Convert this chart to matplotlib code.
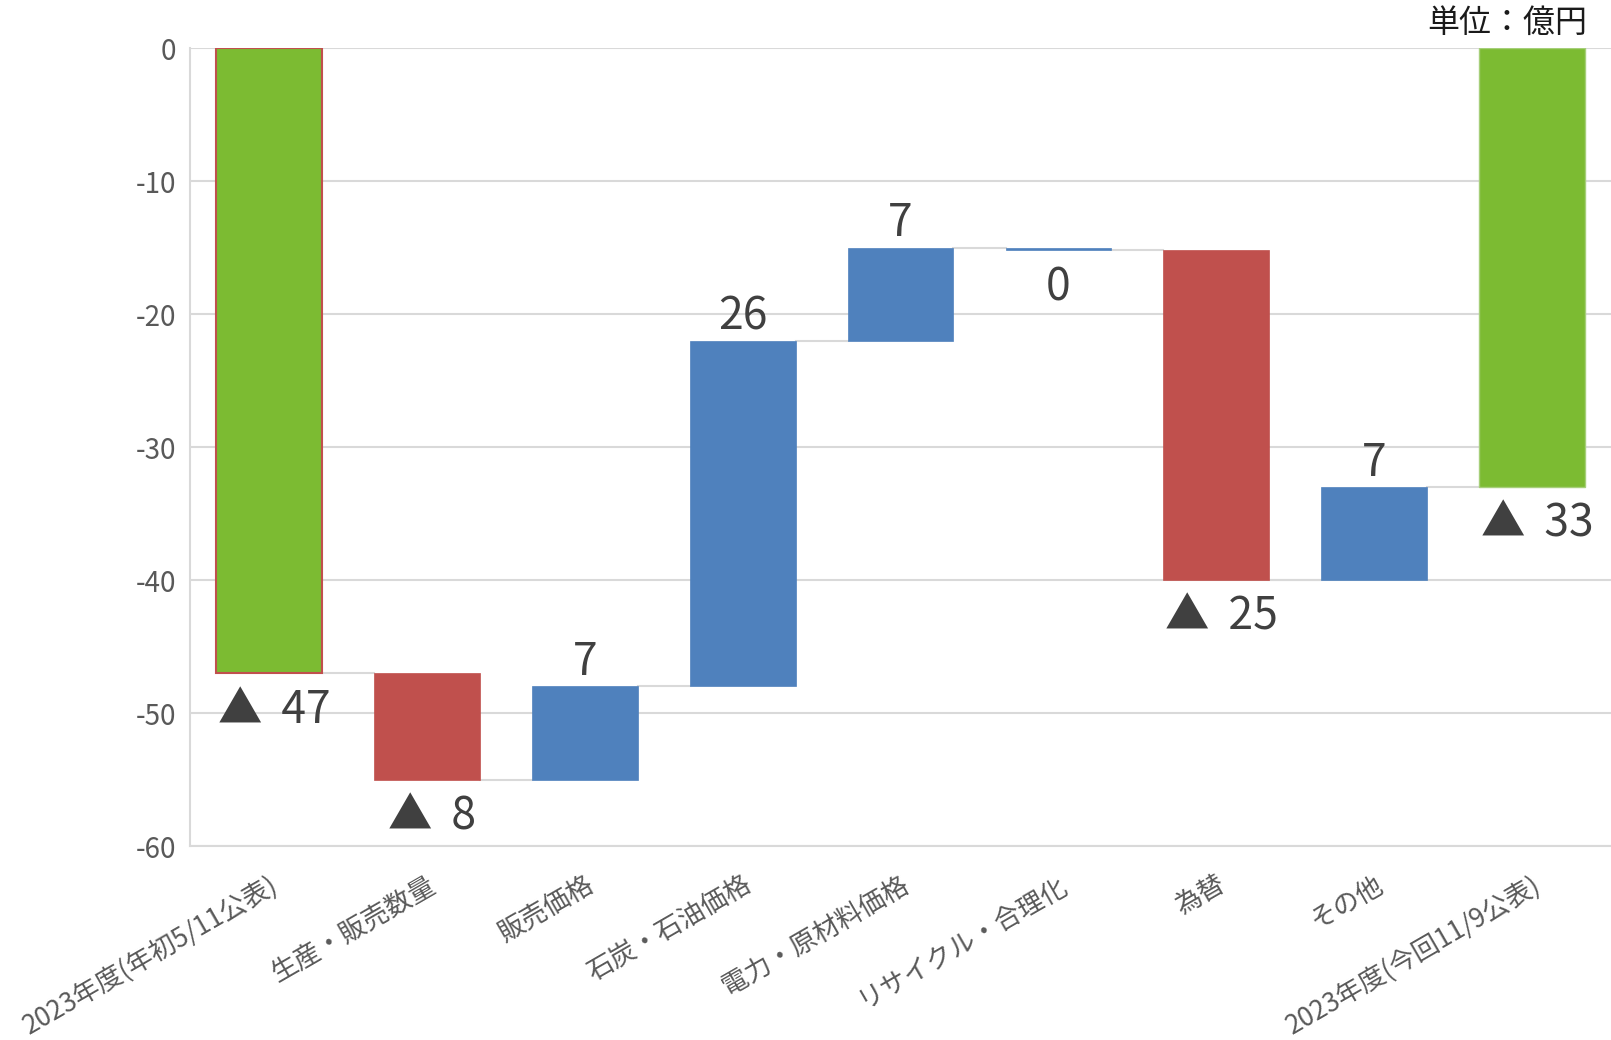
import numpy as np
import matplotlib
matplotlib.use("Agg")
import matplotlib.pyplot as plt

plt.rcParams['font.family'] = ['Noto Sans CJK JP', 'DejaVu Sans']
plt.rcParams['axes.unicode_minus'] = False

# data (億円)
categories = ['2023年度(年初5/11公表)', '生産・販売数量', '販売価格', '石炭・石油価格',
              '電力・原材料価格', 'リサイクル・合理化', '為替', 'その他', '2023年度(今回11/9公表)']
values = [-47, -8, 7, 26, 7, -0.2, -24.8, 7, -33]
is_total = [True, False, False, False, False, False, False, False, True]

GREEN = '#7cbb32'
RED = '#c0504d'
BLUE = '#4f81bd'
GRID = '#d9d9d9'

# waterfall bottoms / tops
starts = []
ends = []
run = 0
for v, tot in zip(values, is_total):
    if tot:
        starts.append(0)
        ends.append(v)
        run = v
    else:
        starts.append(run)
        run = run + v
        ends.append(run)

fig = plt.figure(figsize=(16.11, 10.40), dpi=100)
ax = fig.add_axes([0.118, 0.1865, 0.882, 0.7673])

x = np.arange(len(categories))
w = 0.67
for i in range(len(categories)):
    lo = min(starts[i], ends[i])
    h = abs(ends[i] - starts[i])
    if is_total[i]:
        col = GREEN
        ec = RED if i == 0 else '#a6cf7a'
        lw = 1.5 if i == 0 else 1.0
    else:
        col = RED if round(values[i]) < 0 else BLUE
        ec = col
        lw = 0.5
    ax.bar(x[i], h, bottom=lo, width=w, color=col, edgecolor=ec, linewidth=lw, zorder=3)

    # data labels (▲ = マイナス)
    v = values[i]
    if round(v) < 0:
        txt = '▲ \u2009%d' % round(abs(v))
        dx = 4
    else:
        txt = '%d' % round(abs(v))
        dx = 0
    if v < 0:
        ax.annotate(txt, (x[i], min(starts[i], ends[i])), xytext=(dx, -10), textcoords='offset points',
                    ha='center', va='top', fontsize=32, color='#404040', zorder=4)
    else:
        ax.annotate(txt, (x[i], max(starts[i], ends[i])), xytext=(0, 1), textcoords='offset points',
                    ha='center', va='bottom', fontsize=32, color='#404040', zorder=4)

# connector lines
for i in range(len(categories) - 1):
    nxt = ends[i + 1] if is_total[i + 1] else starts[i + 1]
    ax.plot([x[i] + w / 2, x[i + 1] - w / 2], [ends[i], nxt], color=GRID, lw=1.5, zorder=2)

ax.set_xlim(-0.5, len(categories) - 0.5)
ax.set_ylim(-60, 0)
ax.set_yticks(np.arange(-60, 1, 10))
ax.yaxis.grid(True, color=GRID, lw=1.5, zorder=0)
ax.set_axisbelow(True)
for s in ['top', 'right']:
    ax.spines[s].set_visible(False)
ax.spines['left'].set_color(GRID)
ax.spines['bottom'].set_color(GRID)
ax.spines['left'].set_linewidth(1.5)
ax.spines['bottom'].set_linewidth(1.5)
ax.tick_params(axis='both', length=0, labelsize=20, colors='#595959')
ax.tick_params(axis='y', pad=10)
ax.tick_params(axis='x', pad=18)
ax.set_xticks(x)
ax.set_xticklabels(categories, rotation=30, ha='right', rotation_mode='anchor', fontsize=19)

fig.text(0.985, 0.978, '単位：億円', ha='right', va='center', fontsize=23, color='#1a1a1a')

fig.savefig('out.png', dpi=100)
